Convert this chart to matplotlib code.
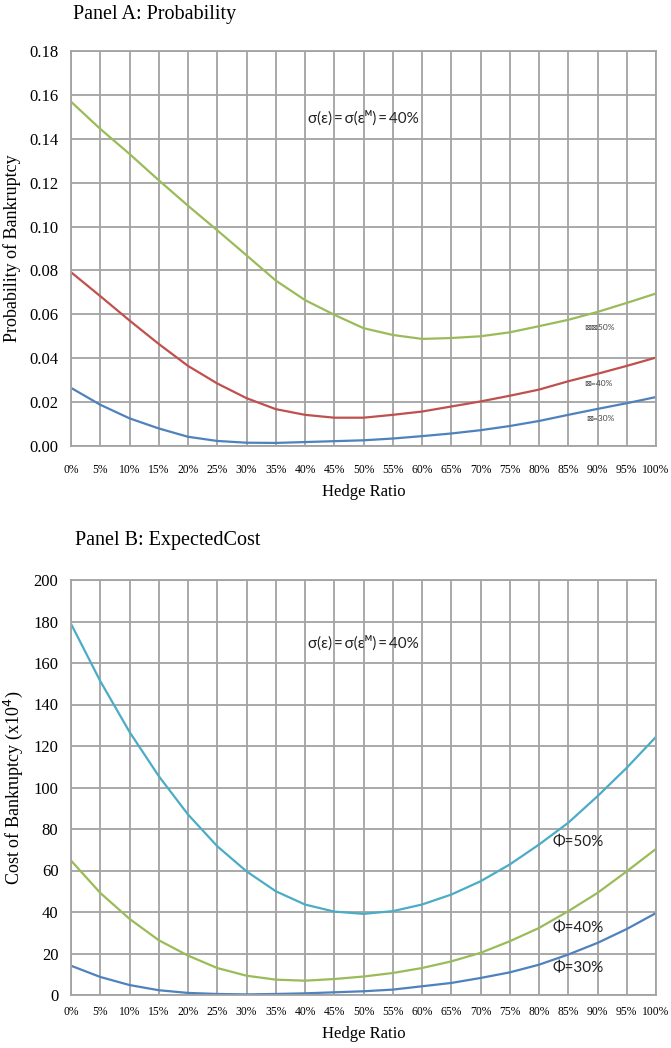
import matplotlib
matplotlib.use("Agg")
import matplotlib.pyplot as plt

hedge = [0, 5, 10, 15, 20, 25, 30, 35, 40, 45, 50, 55, 60, 65, 70, 75, 80, 85, 90, 95, 100]
xtick_labels = [f"{h}%" for h in hedge]

# Panel A: probability of bankruptcy
probA_50 = [0.1569, 0.1445, 0.1331, 0.1211, 0.1095, 0.0983, 0.0869, 0.0754, 0.0665, 0.0598, 0.0537,
            0.0506, 0.0488, 0.0492, 0.0500, 0.0518, 0.0546, 0.0575, 0.0611, 0.0652, 0.0695]
probA_40 = [0.0792, 0.0683, 0.0572, 0.0465, 0.0365, 0.0285, 0.0218, 0.0168, 0.0142, 0.0129, 0.0129,
            0.0142, 0.0157, 0.0180, 0.0203, 0.0229, 0.0257, 0.0295, 0.0329, 0.0365, 0.0403]
probA_30 = [0.0265, 0.0188, 0.0126, 0.0080, 0.0042, 0.0023, 0.0015, 0.0014, 0.0018, 0.0022, 0.0026,
            0.0034, 0.0045, 0.0057, 0.0072, 0.0091, 0.0114, 0.0142, 0.0169, 0.0195, 0.0223]

# Panel B: expected cost of bankruptcy (x10^4)
costB_50 = [178.9, 151.3, 126.8, 105.5, 87.0, 71.7, 59.6, 50.0, 43.6, 40.2, 39.1,
            40.4, 43.6, 48.4, 54.8, 62.9, 72.5, 83.0, 95.8, 109.5, 124.4]
costB_40 = [64.8, 49.2, 36.7, 26.4, 19.0, 13.0, 9.3, 7.4, 6.9, 7.7, 8.9,
            10.6, 13.0, 16.2, 20.3, 25.9, 32.3, 40.4, 49.2, 59.6, 70.4]
costB_30 = [14.1, 8.7, 4.8, 2.3, 1.0, 0.5, 0.3, 0.5, 0.8, 1.3, 1.8,
            2.6, 4.2, 5.8, 8.2, 10.9, 14.6, 19.5, 25.1, 31.8, 39.5]

yticksA = [0.00, 0.02, 0.04, 0.06, 0.08, 0.10, 0.12, 0.14, 0.16, 0.18]
yticksB = [0, 20, 40, 60, 80, 100, 120, 140, 160, 180, 200]

labelsA = ["\u22a0\u22a050%", "\u22a0=40%", "\u22a0=30%"]
labelsB = ["\u03a6=50%", "\u03a6=40%", "\u03a6=30%"]
note = "\u03c3(\u03b5)\u2009=\u2009\u03c3(\u03b5\u1d39)\u2009=\u200940%"

serif = ['Liberation Serif', 'DejaVu Serif']
sans = ['Lato', 'DejaVu Sans']

GRID = '#a3a3a3'
GREEN = '#9BBB59'
RED = '#C0504D'
BLUE = '#4F81BD'
CYAN = '#4BACC6'

fig = plt.figure(figsize=(6.71, 10.48), dpi=100)
W, H = 671, 1048

def make_ax(top, bottom):
    return fig.add_axes([71 / W, (H - bottom) / H, 585 / W, (bottom - top) / H])

def style(ax, yticks, yfmt, xpad):
    ax.set_xlim(0, 100)
    ax.set_ylim(yticks[0], yticks[-1])
    ax.set_xticks(hedge)
    ax.set_xticklabels(xtick_labels, family=serif, fontsize=8.4)
    ax.set_yticks(yticks)
    ax.set_yticklabels([yfmt(v) for v in yticks], family=serif, fontsize=12)
    ax.tick_params(axis='both', length=0)
    ax.tick_params(axis='x', pad=xpad)
    ax.tick_params(axis='y', pad=9)
    ax.grid(True, color=GRID, linewidth=1.3)
    ax.set_axisbelow(True)
    for s in ax.spines.values():
        s.set_color(GRID)
        s.set_linewidth(1.3)

# Panel A
axA = make_ax(51, 446)
axA.plot(hedge, probA_50, color=GREEN, lw=1.6)
axA.plot(hedge, probA_40, color=RED, lw=1.6)
axA.plot(hedge, probA_30, color=BLUE, lw=1.6)
style(axA, yticksA, lambda v: f"{v:.2f}", 13)
axA.set_xlabel("Hedge Ratio", family=serif, fontsize=12, labelpad=6)
axA.set_ylabel("Probability of Bankruptcy", family=serif, fontsize=13, labelpad=6)
axA.text(50, 0.1495, note, family=sans, fontsize=11, ha='center', va='center', color='#222222')
axA.text(87.8, 0.0538, labelsA[0], family=sans, fontsize=6, ha='left', va='center', color='#444444')
axA.text(87.8, 0.0284, labelsA[1], family=sans, fontsize=6, ha='left', va='center', color='#444444')
axA.text(88.0, 0.0127, labelsA[2], family=sans, fontsize=6, ha='left', va='center', color='#444444')
fig.text(73 / W, 1 - 14 / H, "Panel A: Probability", family=serif, fontsize=14.5, ha='left', va='center')

# Panel B
axB = make_ax(580, 995)
axB.plot(hedge, costB_50, color=CYAN, lw=1.6)
axB.plot(hedge, costB_40, color=GREEN, lw=1.6)
axB.plot(hedge, costB_30, color=BLUE, lw=1.6)
style(axB, yticksB, lambda v: f"{v:d}", 8)
axB.set_xlabel("Hedge Ratio", family=serif, fontsize=12, labelpad=6)
axB.set_ylabel("Cost of Bankruptcy (x10$^4$)", family=serif, fontsize=13, labelpad=6)
axB.text(50, 169.6, note, family=sans, fontsize=11, ha='center', va='center', color='#222222')
axB.text(82.3, 73.5, labelsB[0], family=sans, fontsize=11, ha='left', va='center', color='#222222')
axB.text(82.3, 32.3, labelsB[1], family=sans, fontsize=11, ha='left', va='center', color='#222222')
axB.text(82.3, 13.0, labelsB[2], family=sans, fontsize=11, ha='left', va='center', color='#222222')
fig.text(75 / W, 1 - 541 / H, "Panel B: ExpectedCost", family=serif, fontsize=14.5, ha='left', va='center')

fig.savefig("out.png", dpi=100)
